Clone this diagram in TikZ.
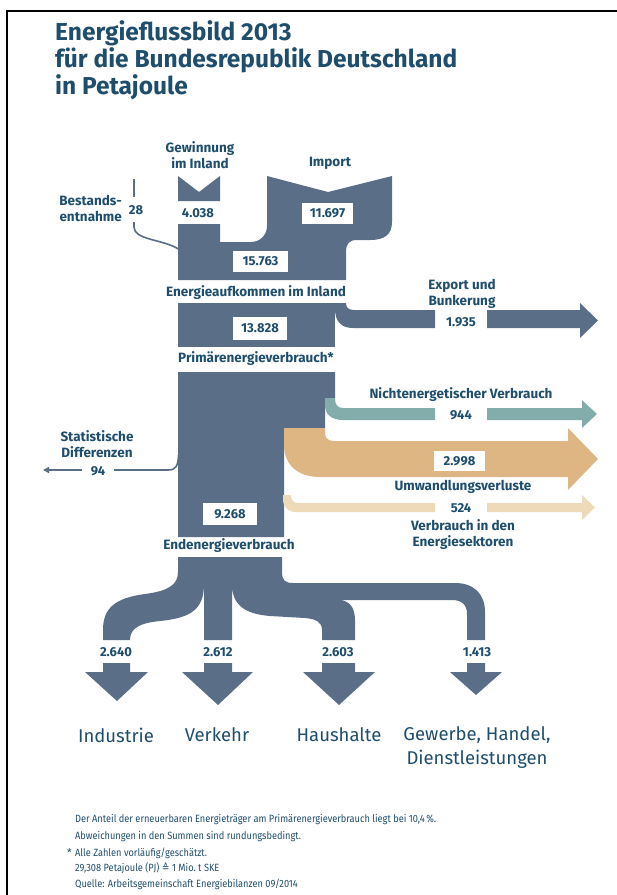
\documentclass[tikz,border=0pt]{standalone}
\usepackage{fontspec}
\setmainfont{Fira Sans}
\newfontfamily\symfont{DejaVu Sans}
\usetikzlibrary{arrows.meta}

\definecolor{flowdark}{HTML}{5B6E87}
\definecolor{flowteal}{HTML}{82ADAB}
\definecolor{flowtan}{HTML}{DDB684}
\definecolor{flowsand}{HTML}{EED9B9}
\definecolor{ink}{HTML}{1F4E6D}

\tikzset{
  darkflow/.style={fill=flowdark, draw=none},
  tealflow/.style={fill=flowteal, draw=none},
  tanflow/.style={fill=flowtan, draw=none},
  sandflow/.style={fill=flowsand, draw=none},
  thinflow/.style={draw=flowdark, line width=1.6pt},
  heading/.style={text=ink, anchor=base west, inner sep=0pt,
    font=\bfseries\fontsize{24.5}{27}\selectfont},
  lab/.style={text=ink, inner sep=0pt, align=center,
    font=\bfseries\fontsize{13.5}{16}\selectfont},
  num/.style={text=ink, inner sep=0pt,
    font=\bfseries\fontsize{13}{15}\selectfont},
  valbox/.style={num, fill=white, inner sep=0pt},
  sector/.style={text=ink, inner sep=0pt, align=center,
    font=\fontsize{18.5}{24}\selectfont},
  note/.style={text=ink, anchor=base west, inner sep=0pt,
    font=\fontsize{10.5}{12}\selectfont},
}

\begin{document}
\begin{tikzpicture}[x=1pt, y=-1pt]
\useasboundingbox (0,0) rectangle (617,895);

% frame
\draw[line width=2pt] (7,895) -- (7,10.5) -- (617,10.5);

% title
\node[heading] (t1) at (55,40) {Energieflussbild 2013};
\node[heading] (t2) at (55,67) {für die Bundesrepublik Deutschland};
\node[heading] (t3) at (55,94) {in Petajoule};

% --- supply side ---
% domestic production
\fill[darkflow] (178,176) -- (199,192) -- (220,176) -- (220,201) -- (178,201) -- cycle;
% imports merging into total supply
\fill[darkflow] (178,224) -- (220,224) -- (220,242) -- (251,242)
  .. controls (260,242) and (267,235) .. (267,226) -- (267,176)
  -- (328,192) -- (392,176) -- (392,222)
  .. controls (392,235) and (384,240) .. (370,240) -- (357,240)
  .. controls (349,240) and (346,244) .. (346,252) -- (346,280)
  -- (178,280) -- cycle;
% stock withdrawal
\coordinate (bsTop) at (134,179);
\coordinate (bsGapA) at (134,197);
\coordinate (bsGapB) at (134,222);
\coordinate (bsEnd) at (178.5,249);
\draw[thinflow] (bsTop) -- (bsGapA);
\draw[thinflow] (bsGapB) -- (134,227) .. controls (134,240) and (162,239) .. (bsEnd);

% primary energy consumption
\fill[darkflow] (178,303) rectangle (335,347);
% export and bunkering
\fill[darkflow] (335,303) -- (346,303) .. controls (346,307) and (348,310) .. (354,310)
  -- (435,310) -- (435,328) -- (353,328)
  .. controls (341,328) and (335,321) .. (335,309) -- cycle;
\fill[darkflow] (487,310) -- (580,310) -- (580,303) -- (598,320.5) -- (580,338)
  -- (580,328) -- (487,328) -- cycle;

% --- conversion block ---
\fill[darkflow] (178,372) -- (335,372) -- (335,398) -- (325,398) -- (325,428)
  -- (284,428) -- (284,537) -- (178,537) -- cycle;
% non-energy use
\fill[tealflow] (325,398) -- (335,398) .. controls (335,404) and (337,408) .. (343,408)
  -- (435,408) -- (435,420) -- (343,420)
  .. controls (331,420) and (325,414) .. (325,405) -- cycle;
\fill[tealflow] (487,408) -- (582,408) -- (582,400) -- (597,414) -- (582,428)
  -- (582,420) -- (487,420) -- cycle;
% conversion losses
\fill[tanflow] (284,428) -- (325,428) -- (325,433)
  .. controls (325,438) and (328,441) .. (334,441) -- (568,441) -- (568,428)
  -- (598,459) -- (568,490) -- (568,477) -- (320,477)
  .. controls (298,477) and (284,465) .. (284,445) -- cycle;
% own use of the energy sector
\fill[sandflow] (283,495) -- (291,495) .. controls (291,500) and (293,503) .. (298,503)
  -- (435,503) -- (435,512) -- (296,512)
  .. controls (288,512) and (283,507) .. (283,499) -- cycle;
\fill[sandflow] (487,503) -- (582,503) -- (582,495) -- (595,507.5) -- (582,520)
  -- (582,512) -- (487,512) -- cycle;
% statistical differences
\coordinate (sdStart) at (178.5,455);
\coordinate (sdGapA) at (114,470);
\coordinate (sdGapB) at (82,470);
\coordinate (sdTip) at (43,470);
\draw[thinflow] (sdStart) .. controls (178,466) and (176,470) .. (168,470) -- (sdGapA);
\draw[thinflow, -{Triangle[length=6pt, width=6pt]}] (sdGapB) -- (sdTip);

% --- final energy consumption by sector ---
\fill[darkflow] (178,557) -- (282,557) -- (282,572)
  .. controls (282,580) and (285,583) .. (293,583) -- (455,583)
  .. controls (474,583) and (485,594) .. (485,612) -- (485,640) -- (467,640)
  -- (467,614) .. controls (467,605) and (462,600) .. (452,600) -- (338,600)
  .. controls (349,600) and (355,607) .. (355,620) -- (355,640) -- (322,640)
  -- (322,630) .. controls (322,622) and (316,619) .. (305,618) -- (270,616)
  .. controls (245,614) and (232,605) .. (232,584) -- (232,640) -- (204,640)
  -- (204,584) .. controls (204,610) and (190,618) .. (160,621)
  .. controls (140,623) and (130,628) .. (130,640) -- (103,640) -- (103,630)
  .. controls (103,608) and (115,598) .. (145,594)
  .. controls (168,591) and (178,585) .. (178,572) -- cycle;
% sector arrows
\fill[darkflow] (103,663) -- (130,663) -- (130,672) -- (148,672) -- (117,701)
  -- (85,672) -- (103,672) -- cycle;
\fill[darkflow] (204,663) -- (232,663) -- (232,672) -- (253,672) -- (218,705)
  -- (182,672) -- (204,672) -- cycle;
\fill[darkflow] (322,663) -- (355,663) -- (355,672) -- (375,672) -- (339,705)
  -- (303,672) -- (322,672) -- cycle;
\fill[darkflow] (467,663) -- (485,663) -- (485,672) -- (502,672) -- (476,695)
  -- (450,672) -- (467,672) -- cycle;

% --- labels ---
\node[lab] (gew) at (200,155) {Gewinnung\\im Inland};
\node[lab] (imp) at (330,163) {Import};
\node[lab, anchor=east, align=right] (bst) at (122,208.5) {Bestands-\\entnahme};
\node[num] (v28) at (136,210) {28};
\node[num] (v4038) at (198,213) {4.038};
\node[valbox, minimum width=51pt, minimum height=21pt] (v11697) at (327.5,213.5) {11.697};
\node[valbox, minimum width=55pt, minimum height=21pt] (v15763) at (260.5,261.5) {15.763};
\node[lab] (eai) at (256,293) {Energieaufkommen im Inland};
\node[lab] (exp) at (462,294) {Export und\\Bunkerung};
\node[num] (v1935) at (461,322) {1.935};
\node[valbox, minimum width=54pt, minimum height=23pt] (v13828) at (260,328.5) {13.828};
\node[lab] (pev) at (256,359) {Primärenergieverbrauch*};
\node[lab] (nev) at (461,395) {Nichtenergetischer Verbrauch};
\node[num] (v944) at (461,415) {944};
\node[lab] (sdl) at (97,444) {Statistische\\Differenzen};
\node[num] (v94) at (98,471) {94};
\node[valbox, minimum width=51pt, minimum height=20pt] (v2998) at (459.5,461) {2.998};
\node[lab] (uwv) at (463,487) {Umwandlungsverluste};
\node[num] (v524) at (461,508) {524};
\node[lab] (ves) at (463,534.5) {Verbrauch in den\\Energiesektoren};
\node[valbox, minimum width=54pt, minimum height=22pt] (v9268) at (230,514) {9.268};
\node[lab] (eev) at (229,546) {Endenergieverbrauch};

\node[num] (v2640) at (116,652) {2.640};
\node[num] (v2612) at (218,652) {2.612};
\node[num] (v2603) at (338,652) {2.603};
\node[num] (v1413) at (477,652) {1.413};

\node[sector] (ind) at (116,735) {Industrie};
\node[sector] (vk) at (217,735) {Verkehr};
\node[sector] (hh) at (339,735) {Haushalte};
\node[sector, anchor=north] (ghd) at (477,726) {Gewerbe, Handel,\\Dienstleistungen};

% footnotes
\node[note] (f1) at (75,822) {\scalebox{0.88}[1]{Der Anteil der erneuerbaren Energieträger am Primärenergieverbrauch liegt bei 10,4\,\%.}};
\node[note] (f2) at (75,839) {\scalebox{0.88}[1]{Abweichungen in den Summen sind rundungsbedingt.}};
\node[note, anchor=base east] (f3s) at (72,856) {*};
\node[note] (f3) at (75,856) {\scalebox{0.88}[1]{Alle Zahlen vorläufig/geschätzt.}};
\node[note] (f4) at (75,871) {\scalebox{0.88}[1]{29,308 Petajoule (PJ) {\symfont ≙} 1 Mio.\ t SKE}};
\node[note] (f5) at (75,887) {\scalebox{0.88}[1]{Quelle: Arbeitsgemeinschaft Energiebilanzen 09/2014}};
\end{tikzpicture}
\end{document}
